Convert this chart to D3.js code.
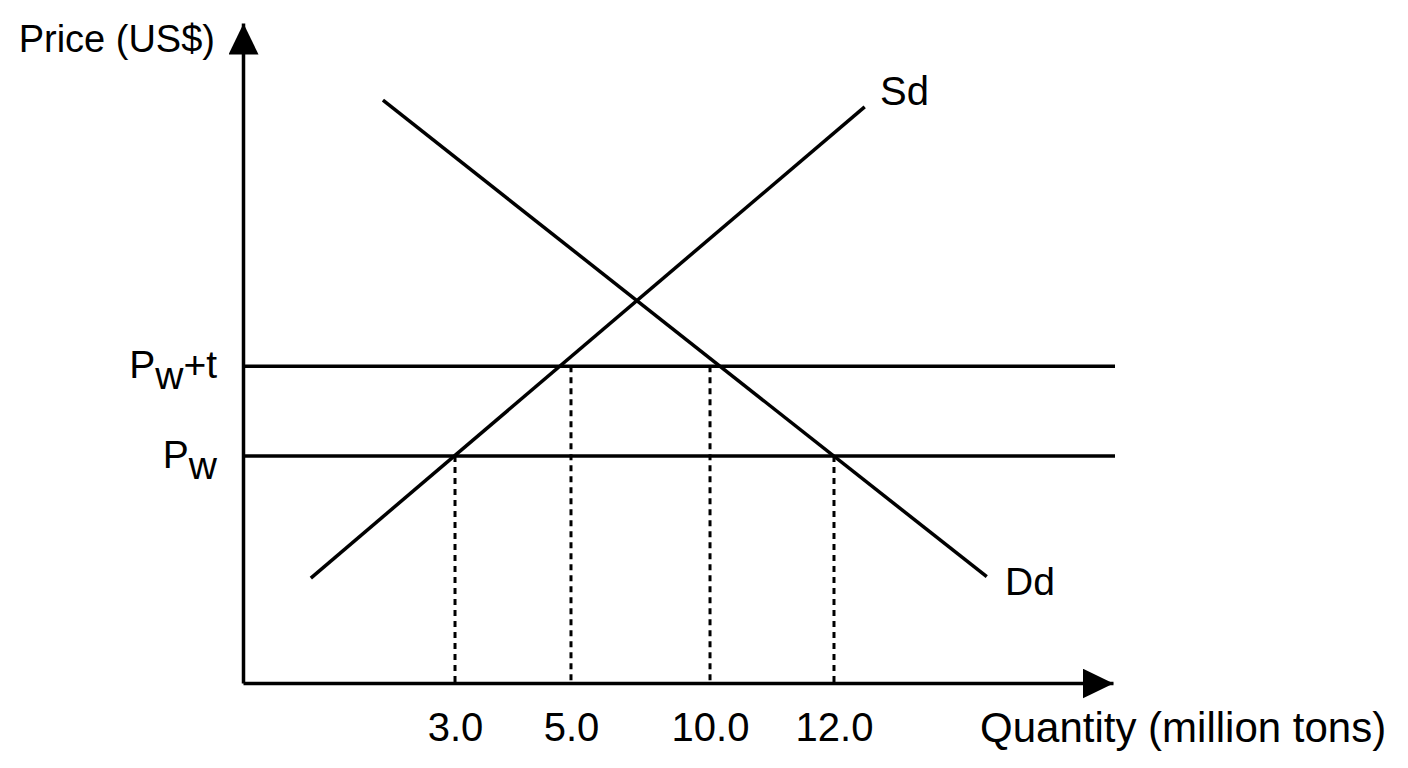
<!DOCTYPE html>
<html>
<head>
<meta charset="utf-8">
<script src="https://cdn.jsdelivr.net/npm/d3@7"></script>
<style>
  body { margin: 0; background: #fff; }
  svg { display: block; font-family: "Liberation Sans", Arial, sans-serif; }
</style>
</head>
<body>
<svg id="chart" width="1408" height="768"></svg>
<script>
// schematic diagram: quantity axis is not drawn to scale
var quantityTicks = [3, 5, 10, 12];
var quantityBreaks = [0, 3, 5, 10, 12, 16];

// price levels in diagram units (0 = origin, 10 = top of axis)
var priceNames = ['Pw', 'Pw+t'];
var priceValues = [3.44, 4.80];

// curve end points (quantity, price)
var supplyQ = [0.96, 12.44];
var supplyP = [1.59, 8.73];
var demandQ = [1.98, 14.19];
var demandP = [8.83, 1.61];

// dotted drop lines: quantity and the price level they hang from
var dropQ = [3, 5, 10, 12];
var dropLevel = ['Pw', 'Pw+t', 'Pw+t', 'Pw'];

var x0 = 243, x1 = 1113, y0 = 683, y1 = 23;
var axisLen = x1 - x0;
var breakFrac = [0, 0.2437, 0.377, 0.5368, 0.6793, 1];

var xScale = d3.scaleLinear()
  .domain(quantityBreaks)
  .range(breakFrac.map(function(f) { return x0 + f * axisLen; }));

var yScale = d3.scaleLinear().domain([0, 10]).range([y0, y1]);

var svg = d3.select('#chart');

var defs = svg.append('defs');
defs.append('marker')
  .attr('id', 'arrow')
  .attr('markerUnits', 'userSpaceOnUse')
  .attr('viewBox', '0 0 31 30')
  .attr('markerWidth', 31)
  .attr('markerHeight', 30)
  .attr('refX', 31)
  .attr('refY', 15)
  .attr('orient', 'auto')
  .append('path')
  .attr('d', 'M0,0L31,15L0,30Z')
  .attr('fill', '#000');

function priceOf(name) {
  return priceValues[priceNames.indexOf(name)];
}

// horizontal price lines
svg.selectAll('.price-line')
  .data(priceNames)
  .enter().append('line')
  .attr('class', 'price-line')
  .attr('x1', xScale(0))
  .attr('x2', xScale.range()[xScale.range().length - 1] + 2)
  .attr('y1', function(d) { return yScale(priceOf(d)); })
  .attr('y2', function(d) { return yScale(priceOf(d)); })
  .attr('stroke', '#000')
  .attr('stroke-width', 3.5);

// dotted drop lines
svg.selectAll('.drop')
  .data(dropQ)
  .enter().append('line')
  .attr('class', 'drop')
  .attr('x1', function(d) { return xScale(d); })
  .attr('x2', function(d) { return xScale(d); })
  .attr('y1', function(d, i) { return yScale(priceOf(dropLevel[i])); })
  .attr('y2', yScale(0))
  .attr('stroke', '#000')
  .attr('stroke-width', 3)
  .attr('stroke-dasharray', '6,5');

// supply and demand
var curves = [
  { name: 'Sd', q: supplyQ, p: supplyP },
  { name: 'Dd', q: demandQ, p: demandP }
];

var line = d3.line()
  .x(function(d) { return xScale(d[0]); })
  .y(function(d) { return yScale(d[1]); });

svg.selectAll('.curve')
  .data(curves)
  .enter().append('path')
  .attr('class', 'curve')
  .attr('d', function(c) { return line(d3.zip(c.q, c.p)); })
  .attr('fill', 'none')
  .attr('stroke', '#000')
  .attr('stroke-width', 3.5);

// axes
var xAxis = svg.append('g')
  .attr('transform', 'translate(0,' + y0 + ')')
  .call(d3.axisBottom(xScale)
    .tickValues(quantityTicks)
    .tickFormat(d3.format('.1f'))
    .tickSize(0)
    .tickSizeOuter(0)
    .tickPadding(30));

xAxis.select('.domain')
  .attr('stroke-width', 3.5)
  .attr('marker-end', 'url(#arrow)');
xAxis.selectAll('.tick text')
  .attr('font-family', '"Liberation Sans", Arial, sans-serif')
  .attr('font-size', 40)
  .attr('fill', '#000');

var yAxis = svg.append('g')
  .attr('transform', 'translate(' + x0 + ',0)')
  .call(d3.axisLeft(yScale).tickValues([]).tickSizeOuter(0));

yAxis.select('.domain')
  .attr('stroke-width', 3.5)
  .attr('marker-end', 'url(#arrow)');

// labels
svg.append('text')
  .attr('x', 215).attr('y', 52)
  .attr('text-anchor', 'end')
  .attr('font-size', 38)
  .text('Price (US$)');

svg.append('text')
  .attr('x', 980).attr('y', 742)
  .attr('font-size', 42)
  .text('Quantity (million tons)');

svg.append('text')
  .attr('x', 880).attr('y', 105)
  .attr('font-size', 40)
  .text('Sd');

svg.append('text')
  .attr('x', 1005).attr('y', 595)
  .attr('font-size', 39)
  .text('Dd');

var priceLabels = svg.selectAll('.price-label')
  .data(priceNames)
  .enter().append('text')
  .attr('class', 'price-label')
  .attr('x', 217)
  .attr('y', function(d) { return yScale(priceOf(d)) + 12; })
  .attr('text-anchor', 'end')
  .attr('font-size', 39);

priceLabels.append('tspan').text('P');
priceLabels.append('tspan').attr('dy', 11).text('w');
priceLabels.filter(function(d) { return d.length > 2; })
  .append('tspan').attr('dy', -11).text(function(d) { return d.slice(2); });
</script>
</body>
</html>
